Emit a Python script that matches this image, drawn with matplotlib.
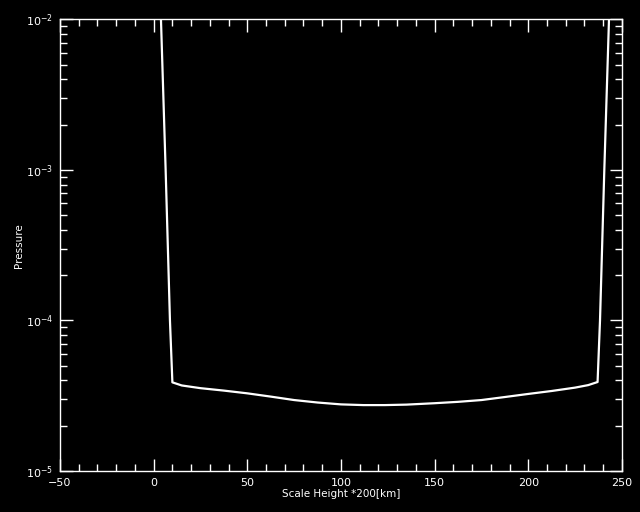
import matplotlib
matplotlib.use("Agg")
import matplotlib.pyplot as plt
from matplotlib.ticker import MultipleLocator, LogLocator

# scale height (x 200 km) vs pressure
scale_height = [3.9, 6.4, 8.7, 10.0, 15, 25, 37.5, 50, 62.5, 75, 87.5, 100, 112, 123.5, 135,
                150, 162.5, 175, 187.5, 200, 212.5, 225, 232, 237.0, 238.3, 240.6, 243.1]
pressure = [1e-2, 1e-3, 1e-4, 3.88e-5, 3.70e-5, 3.55e-5, 3.42e-5, 3.28e-5, 3.12e-5, 2.96e-5,
            2.85e-5, 2.77e-5, 2.74e-5, 2.74e-5, 2.76e-5, 2.82e-5, 2.88e-5, 2.96e-5, 3.10e-5,
            3.25e-5, 3.40e-5, 3.58e-5, 3.72e-5, 3.9e-5, 1e-4, 1e-3, 1e-2]

fig = plt.figure(figsize=(6.4, 5.12), dpi=100, facecolor="black")
ax = fig.add_axes([0.09375, 0.0801, 0.878, 0.882], facecolor="black")

ax.plot(scale_height, pressure, color="white", lw=1.6)
ax.set_yscale("log")
ax.set_xlim(-50, 250)
ax.set_ylim(1e-5, 1e-2)

ax.xaxis.set_major_locator(MultipleLocator(50))
ax.xaxis.set_minor_locator(MultipleLocator(10))
ax.yaxis.set_major_locator(LogLocator(base=10))
ax.yaxis.set_minor_locator(LogLocator(base=10, subs=range(2, 10)))

for s in ax.spines.values():
    s.set_color("white")
    s.set_linewidth(1)
ax.tick_params(which="both", direction="in", top=True, right=True,
               colors="white", labelsize=8, width=1)
ax.tick_params(which="major", length=9, pad=5)
ax.tick_params(which="minor", length=5)

ax.set_xlabel("Scale Height *200[km]", color="white", fontsize=7.5, labelpad=1)
ax.set_ylabel("Pressure", color="white", fontsize=7.5, labelpad=1)

fig.savefig("out.png", dpi=100, facecolor="black")
